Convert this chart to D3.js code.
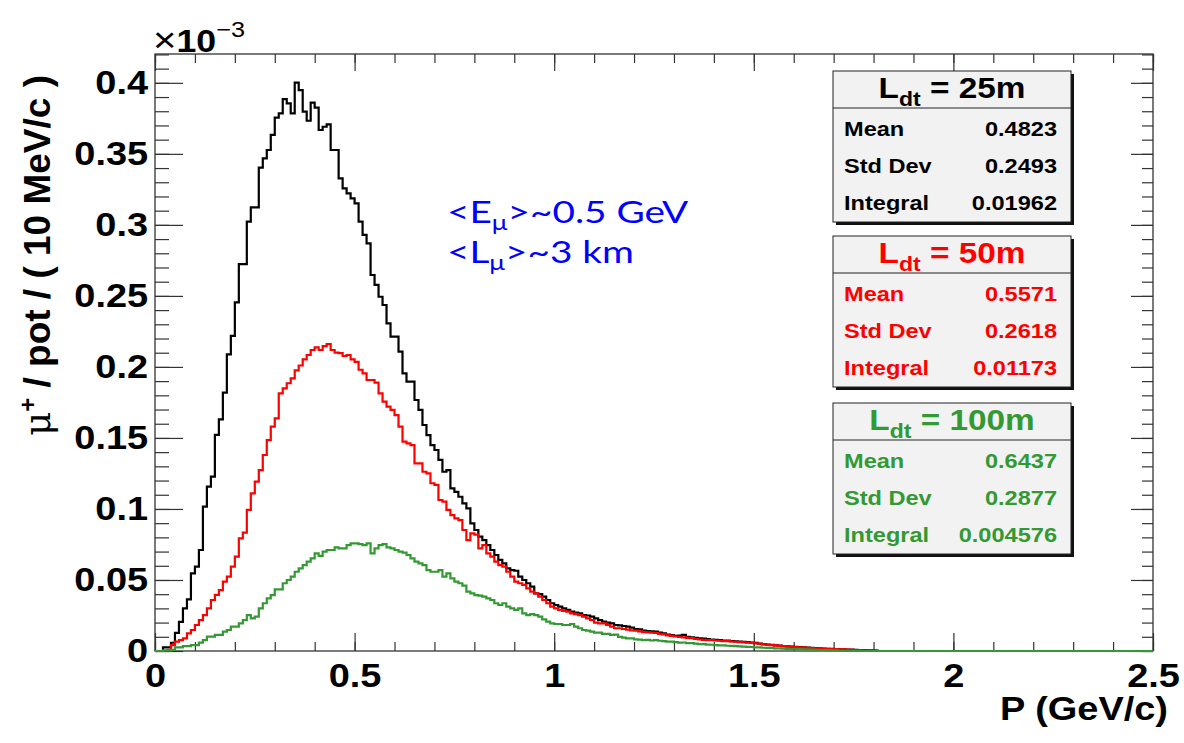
<!DOCTYPE html>
<html>
<head>
<meta charset="utf-8">
<script src="https://cdn.jsdelivr.net/npm/d3@7"></script>
<style>
  body { margin: 0; background: #fff; }
  svg text { font-family: "Liberation Sans", Arial, Helvetica, sans-serif; }
</style>
</head>
<body>
<div id="chart"></div>
<script>
// Muon momentum spectra (mu+ / pot / 10 MeV/c, in units of 1e-3), 10 MeV/c bins from P = 0
const binWidth = 0.01;

// L_dt = 25m (black)
const ldt25 = [
  0, 0, 0.0025, 0.0025, 0.0058, 0.0128, 0.0205, 0.0300, 0.0364, 0.0547,
  0.0594, 0.0711, 0.1016, 0.1157, 0.1227, 0.1521, 0.1631, 0.1819, 0.2089, 0.2218,
  0.2455, 0.2724, 0.2724, 0.3023, 0.3123, 0.3123, 0.3403, 0.3468, 0.3527, 0.3633,
  0.3755, 0.3785, 0.3886, 0.3856, 0.3785, 0.4001, 0.3949, 0.3797, 0.3733, 0.3860,
  0.3825, 0.3668, 0.3691, 0.3708, 0.3527, 0.3527, 0.3328, 0.3257, 0.3222, 0.3187,
  0.3152, 0.3023, 0.2929, 0.2870, 0.2647, 0.2577, 0.2494, 0.2436, 0.2307, 0.2213,
  0.2213, 0.2107, 0.1955, 0.1896, 0.1896, 0.1767, 0.1697, 0.1591, 0.1520, 0.1450,
  0.1415, 0.1345, 0.1262, 0.1274, 0.1145, 0.1120, 0.1086, 0.1040, 0.1004, 0.0899,
  0.0852, 0.0805, 0.0781, 0.0746, 0.0711, 0.0676, 0.0641, 0.0617, 0.0582, 0.0570,
  0.0565, 0.0523, 0.0500, 0.0477, 0.0453, 0.0406, 0.0401, 0.0383, 0.0359, 0.0336,
  0.0324, 0.0312, 0.0300, 0.0289, 0.0277, 0.0270, 0.0265, 0.0253, 0.0250, 0.0242,
  0.0230, 0.0218, 0.0207, 0.0200, 0.0195, 0.0183, 0.0180, 0.0176, 0.0171, 0.0165,
  0.0155, 0.0152, 0.0143, 0.0140, 0.0138, 0.0136, 0.0130, 0.0124, 0.0115, 0.0112,
  0.0106, 0.0109, 0.0113, 0.0100, 0.0096, 0.0092, 0.0089, 0.0087, 0.0083, 0.0081,
  0.0078, 0.0077, 0.0074, 0.0073, 0.0070, 0.0068, 0.0067, 0.0064, 0.0062, 0.0060,
  0.0058, 0.0052, 0.0049, 0.0045, 0.0043, 0.0040, 0.0038, 0.0035, 0.0033, 0.0031,
  0.0029, 0.0027, 0.0025, 0.0024, 0.0022, 0.0020, 0.0019, 0.0017, 0.0016, 0.0015,
  0.0014, 0.0012, 0.0011, 0.0010, 0.0009, 0.0008, 0.0007, 0.0006, 0.0005, 0.0004,
  0.0003
];

// L_dt = 50m (red)
const ldt50 = [
  0, 0, 0, 0, 0.0042, 0.0066, 0.0077, 0.0089, 0.0124, 0.0148,
  0.0183, 0.0218, 0.0253, 0.0300, 0.0359, 0.0395, 0.0429, 0.0488, 0.0523, 0.0594,
  0.0664, 0.0793, 0.0833, 0.0993, 0.1110, 0.1192, 0.1274, 0.1380, 0.1485, 0.1579,
  0.1638, 0.1814, 0.1849, 0.1885, 0.1920, 0.1975, 0.2010, 0.2053, 0.2084, 0.2119,
  0.2138, 0.2119, 0.2147, 0.2161, 0.2119, 0.2100, 0.2097, 0.2077, 0.2084, 0.2053,
  0.2035, 0.1980, 0.1955, 0.1908, 0.1908, 0.1890, 0.1814, 0.1755, 0.1720, 0.1697,
  0.1661, 0.1579, 0.1474, 0.1462, 0.1450, 0.1321, 0.1321, 0.1262, 0.1251, 0.1181,
  0.1169, 0.1063, 0.1051, 0.0993, 0.0957, 0.0934, 0.0922, 0.0852, 0.0781, 0.0828,
  0.0820, 0.0723, 0.0746, 0.0688, 0.0664, 0.0629, 0.0605, 0.0594, 0.0558, 0.0523,
  0.0488, 0.0477, 0.0465, 0.0441, 0.0418, 0.0406, 0.0383, 0.0359, 0.0336, 0.0312,
  0.0300, 0.0289, 0.0282, 0.0277, 0.0265, 0.0260, 0.0253, 0.0242, 0.0230, 0.0218,
  0.0200, 0.0195, 0.0195, 0.0183, 0.0171, 0.0160, 0.0160, 0.0155, 0.0150, 0.0145,
  0.0143, 0.0138, 0.0133, 0.0131, 0.0129, 0.0127, 0.0120, 0.0117, 0.0110, 0.0106,
  0.0102, 0.0100, 0.0096, 0.0092, 0.0090, 0.0086, 0.0081, 0.0079, 0.0077, 0.0076,
  0.0074, 0.0072, 0.0070, 0.0069, 0.0067, 0.0065, 0.0063, 0.0061, 0.0059, 0.0057,
  0.0054, 0.0051, 0.0047, 0.0044, 0.0041, 0.0039, 0.0036, 0.0034, 0.0031, 0.0029,
  0.0027, 0.0026, 0.0024, 0.0022, 0.0021, 0.0019, 0.0018, 0.0016, 0.0015, 0.0014,
  0.0013, 0.0012, 0.0011, 0.0009, 0.0008, 0.0007, 0.0006, 0.0005, 0.0004, 0.0003,
  0.0002
];

// L_dt = 100m (green)
const ldt100 = [
  0, 0, 0.0004, 0.0006, 0.0008, 0.0026, 0.0026, 0.0035, 0.0035, 0.0042,
  0.0042, 0.0059, 0.0077, 0.0101, 0.0101, 0.0113, 0.0113, 0.0136, 0.0148, 0.0171,
  0.0171, 0.0195, 0.0218, 0.0253, 0.0230, 0.0242, 0.0300, 0.0336, 0.0371, 0.0394,
  0.0434, 0.0434, 0.0477, 0.0500, 0.0523, 0.0558, 0.0582, 0.0605, 0.0629, 0.0652,
  0.0688, 0.0669, 0.0699, 0.0711, 0.0711, 0.0730, 0.0723, 0.0723, 0.0746, 0.0758,
  0.0758, 0.0753, 0.0746, 0.0758, 0.0688, 0.0723, 0.0746, 0.0753, 0.0730, 0.0723,
  0.0711, 0.0699, 0.0692, 0.0676, 0.0652, 0.0629, 0.0617, 0.0605, 0.0570, 0.0558,
  0.0558, 0.0570, 0.0523, 0.0547, 0.0512, 0.0488, 0.0477, 0.0460, 0.0418, 0.0406,
  0.0394, 0.0390, 0.0383, 0.0371, 0.0359, 0.0336, 0.0324, 0.0336, 0.0312, 0.0300,
  0.0289, 0.0300, 0.0265, 0.0253, 0.0260, 0.0253, 0.0242, 0.0223, 0.0207, 0.0195,
  0.0190, 0.0190, 0.0183, 0.0183, 0.0190, 0.0171, 0.0160, 0.0148, 0.0144, 0.0136,
  0.0129, 0.0129, 0.0120, 0.0120, 0.0113, 0.0115, 0.0100, 0.0094, 0.0089, 0.0089,
  0.0082, 0.0080, 0.0077, 0.0078, 0.0074, 0.0077, 0.0072, 0.0069, 0.0066, 0.0066,
  0.0062, 0.0059, 0.0060, 0.0056, 0.0055, 0.0052, 0.0049, 0.0049, 0.0045, 0.0044,
  0.0042, 0.0040, 0.0039, 0.0037, 0.0036, 0.0035, 0.0032, 0.0031, 0.0029, 0.0028,
  0.0026, 0.0025, 0.0023, 0.0022, 0.0021, 0.0019, 0.0018, 0.0017, 0.0015, 0.0014,
  0.0013, 0.0012, 0.0011, 0.0010, 0.0009, 0.0008, 0.0007, 0.0007, 0.0006, 0.0005,
  0.0004
];

const xTicks = [0, 0.5, 1, 1.5, 2, 2.5];
const yTicks = [0, 0.05, 0.1, 0.15, 0.2, 0.25, 0.3, 0.35, 0.4];

// stats boxes
const statNames = ["25m", "50m", "100m"];
const statColors = ["#000000", "#ff0000", "#339933"];
const statMean = ["0.4823", "0.5571", "0.6437"];
const statStdDev = ["0.2493", "0.2618", "0.2877"];
const statIntegral = ["0.01962", "0.01173", "0.004576"];

const W = 1184, H = 743;
const frame = { left: 155, right: 1153, top: 54, bottom: 651 };
const xMax = 2.5, yMax = 0.4203;
const sx = 1.15;   // the reference text is a bit wider than Liberation Sans

const svg = d3.select("#chart").append("svg")
    .attr("width", W)
    .attr("height", H)
    .style("background", "#fff");

const x = d3.scaleLinear().domain([0, xMax]).range([frame.left, frame.right]);
const y = d3.scaleLinear().domain([0, yMax]).range([frame.bottom, frame.top]);

const xMinor = d3.range(0, xMax + 1e-9, 0.1);
const yMinor = d3.range(0, yMax, 0.01);

function styleAxis(g) {
    g.select(".domain").remove();
    g.selectAll(".tick line").attr("stroke", "#333").attr("stroke-width", 1.2);
    g.selectAll(".tick text")
        .attr("fill", "#000")
        .attr("font-size", 33)
        .attr("font-weight", "bold")
        .attr("transform", `scale(${sx},1)`)
        .style("font-family", '"Liberation Sans", Arial, sans-serif');
}

// plain text helper, stretched horizontally around its anchor
function label(px, py, size, anchor) {
    return svg.append("text")
        .attr("transform", `translate(${px},${py}) scale(${sx},1)`)
        .attr("text-anchor", anchor || "start")
        .attr("font-size", size);
}

// Bottom axis (ticks pointing in)
svg.append("g").attr("transform", `translate(0,${frame.bottom})`)
    .call(d3.axisBottom(x).tickValues(xMinor).tickSize(-9).tickFormat(""))
    .call(styleAxis);
svg.append("g").attr("transform", `translate(0,${frame.bottom})`)
    .call(d3.axisBottom(x).tickValues(xTicks).tickSize(-18).tickPadding(13).tickFormat(d => String(d)))
    .call(styleAxis);

// Top axis
svg.append("g").attr("transform", `translate(0,${frame.top})`)
    .call(d3.axisTop(x).tickValues(xMinor).tickSize(-9).tickFormat(""))
    .call(styleAxis);
svg.append("g").attr("transform", `translate(0,${frame.top})`)
    .call(d3.axisTop(x).tickValues(xTicks).tickSize(-17).tickFormat(""))
    .call(styleAxis);

// Left axis
svg.append("g").attr("transform", `translate(${frame.left},0)`)
    .call(d3.axisLeft(y).tickValues(yMinor).tickSize(-14).tickFormat(""))
    .call(styleAxis);
svg.append("g").attr("transform", `translate(${frame.left},0)`)
    .call(d3.axisLeft(y).tickValues(yTicks).tickSize(-28).tickPadding(6).tickFormat(d => String(d)))
    .call(styleAxis);

// Right axis
svg.append("g").attr("transform", `translate(${frame.right},0)`)
    .call(d3.axisRight(y).tickValues(yMinor).tickSize(-11).tickFormat(""))
    .call(styleAxis);
svg.append("g").attr("transform", `translate(${frame.right},0)`)
    .call(d3.axisRight(y).tickValues(yTicks).tickSize(-22).tickFormat(""))
    .call(styleAxis);

// Frame
svg.append("rect")
    .attr("x", frame.left).attr("y", frame.top)
    .attr("width", frame.right - frame.left)
    .attr("height", frame.bottom - frame.top)
    .attr("fill", "none")
    .attr("stroke", "#333")
    .attr("stroke-width", 1.3);

// Histograms as step outlines
const stepLine = d3.line()
    .x(d => x(d[0]))
    .y(d => y(d[1]))
    .curve(d3.curveStepAfter);

function histPoints(vals) {
    const pts = vals.map((v, i) => [i * binWidth, v]);
    pts.push([vals.length * binWidth, 0]);
    pts.push([xMax, 0]);
    return pts;
}

[[ldt25, statColors[0]], [ldt50, statColors[1]], [ldt100, statColors[2]]].forEach(([vals, col]) => {
    svg.append("path")
        .datum(histPoints(vals))
        .attr("d", stepLine)
        .attr("fill", "none")
        .attr("stroke", col)
        .attr("stroke-width", 2.2)
        .attr("stroke-linejoin", "miter");
});

// Axis titles
label(1168, 720, 33, "end").attr("font-weight", "bold").text("P (GeV/c)");

const yTitle = svg.append("text")
    .attr("transform", "translate(50,75) rotate(-90)")
    .attr("text-anchor", "end")
    .attr("font-size", 37).attr("font-weight", "bold");
yTitle.append("tspan").attr("font-weight", "normal").style("font-family", '"DejaVu Serif", serif').text("\u03bc");
yTitle.append("tspan").attr("font-size", 24).attr("dy", -14).text("+");
yTitle.append("tspan").attr("dy", 14).text(" / pot / ( 10 MeV/c )");

// Exponent label
const expo = label(153, 52, 31);
expo.append("tspan").attr("font-weight", "normal").attr("font-size", 35).text("\u00d7");
expo.append("tspan").attr("font-weight", "bold").text("10");
expo.append("tspan").attr("font-size", 22).attr("dy", -15).text("\u22123");

// Stats boxes
const boxTops = [71, 236, 403];
const boxL = 833, boxR = 1071;
statNames.forEach((name, i) => {
    const top = boxTops[i], bot = top + 151, div = top + 37;
    const col = statColors[i];
    const g = svg.append("g");
    g.append("rect").attr("x", boxL + 3).attr("y", top + 3)
        .attr("width", boxR - boxL).attr("height", bot - top).attr("fill", "#111");
    g.append("rect").attr("x", boxL).attr("y", top)
        .attr("width", boxR - boxL).attr("height", bot - top)
        .attr("fill", "#f2f2f2").attr("stroke", "#222").attr("stroke-width", 1);
    g.append("line").attr("x1", boxL).attr("x2", boxR).attr("y1", div).attr("y2", div)
        .attr("stroke", "#222").attr("stroke-width", 1);

    const t = label((boxL + boxR) / 2, top + 27, 29, "middle")
        .attr("font-weight", "bold").attr("fill", col);
    t.append("tspan").text("L");
    t.append("tspan").attr("font-size", 20).attr("dy", 8).text("dt");
    t.append("tspan").attr("dy", -8).text(" = " + name);

    const rows = [["Mean", statMean[i]], ["Std Dev", statStdDev[i]], ["Integral", statIntegral[i]]];
    rows.forEach((r, j) => {
        const by = div + 28 + j * 37;
        label(boxL + 11, by, 20.5).attr("font-weight", "bold").attr("fill", col).text(r[0]);
        label(boxR - 14, by, 20.5, "end").attr("font-weight", "bold").attr("fill", col).text(r[1]);
    });
});

// Blue annotation
const notes = [["E", "~0.5 GeV"], ["L", "~3 km"]];
notes.forEach((n, i) => {
    const t = svg.append("text")
        .attr("transform", `translate(447,${223 + i * 40}) scale(1.25,1)`)
        .attr("font-size", 31)
        .attr("fill", "#0000ff")
        .style("font-family", 'Lato, "Open Sans", sans-serif');
    t.append("tspan").text("<" + n[0]);
    t.append("tspan").attr("font-size", 21).attr("dy", 7).text("\u03bc");
    t.append("tspan").attr("dy", -7).text(">" + n[1]);
});
</script>
</body>
</html>
